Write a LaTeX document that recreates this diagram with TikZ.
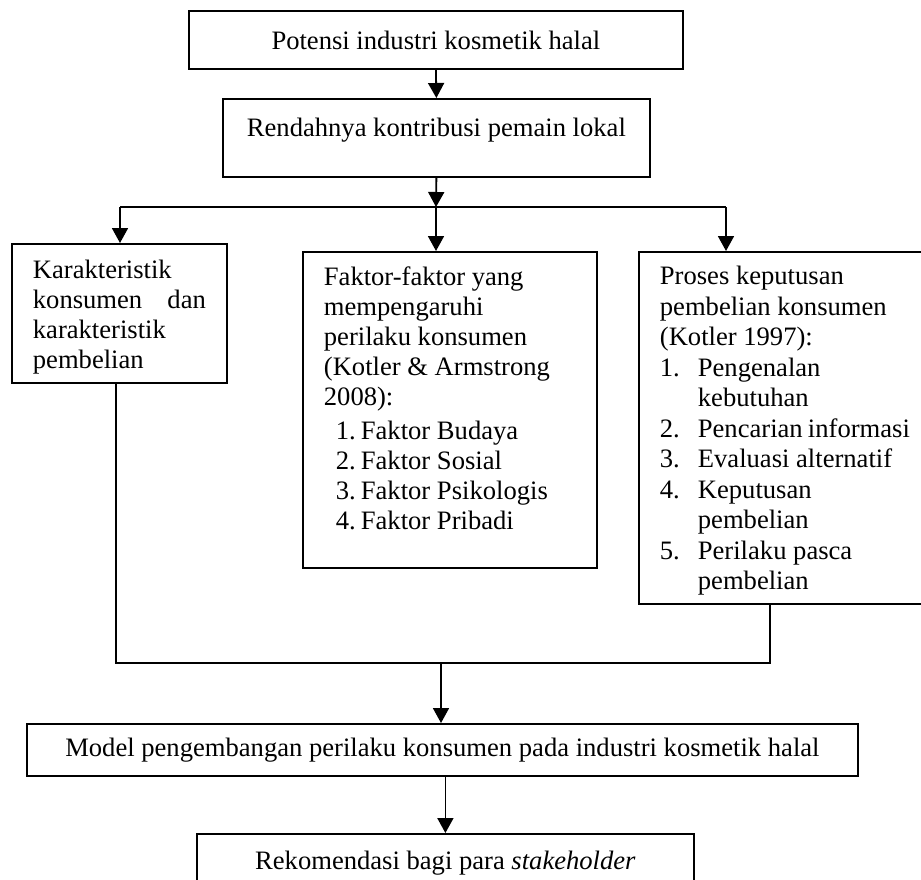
\documentclass[tikz,border=0pt]{standalone}
\usepackage{fontspec}
\setmainfont{Liberation Serif}
\usepackage{tikz}
\usetikzlibrary{arrows.meta}

\begin{document}
\begin{tikzpicture}[x=0.5pt,y=-0.5pt,
    kotak/.style={draw, line width=0.9pt, inner sep=0pt, anchor=north west,
                  font=\fontsize{13.3}{15}\selectfont},
    garis/.style={line width=0.9pt},
    panah/.style={line width=0.9pt, -{Triangle[length=7.5pt,width=8pt]}}]
    \useasboundingbox (0,0) rectangle (921,879);
    \clip (0,0) rectangle (921,879);
    \def\angka#1{\hspace*{6pt}\makebox[12.5pt][l]{#1}}
    \def\nomor#1{\makebox[19pt][l]{#1}}
    % top chain
    \node[kotak, minimum width=247pt, minimum height=29pt] (potensi) at (188,10)
        {Potensi industri kosmetik halal};
    \node[kotak] (rendah) at (222,98)
        {\parbox[c][39pt][t]{213.5pt}{\centering\vspace*{9.6pt}Rendahnya kontribusi pemain lokal}};
    % three boxes
    \node[kotak, inner xsep=10.5pt] (karakter) at (11,243)
        {\parbox[c][69.5pt][t]{86.5pt}{\vspace*{8.3pt}Karakteristik\\
        konsumen\hfill dan\\
        karakteristik\\
        pembelian}};
    \node[kotak, inner xsep=10.5pt] (faktor) at (302,251)
        {\parbox[c][158pt][t]{126pt}{\vspace*{7.2pt}Faktor-faktor yang\\
        mempengaruhi\\
        perilaku konsumen\\
        (Kotler \& Armstrong\\
        2008):\\[2pt]
        \angka{1.}Faktor Budaya\\
        \angka{2.}Faktor Sosial\\
        \angka{3.}Faktor Psikologis\\
        \angka{4.}Faktor Pribadi}};
    \node[kotak, inner xsep=10.5pt, font=\fontsize{13.3}{15.25}\selectfont] (proses) at (638,251)
        {\parbox[c][176pt][t]{125pt}{\vspace*{7.2pt}Proses keputusan\\
        pembelian konsumen\\
        (Kotler 1997):\\
        \nomor{1.}Pengenalan\\
        \hspace*{19pt}kebutuhan\\
        \nomor{2.}Pencarian informasi\\
        \nomor{3.}Evaluasi alternatif\\
        \nomor{4.}Keputusan\\
        \hspace*{19pt}pembelian\\
        \nomor{5.}Perilaku pasca\\
        \hspace*{19pt}pembelian}};
    % bottom chain
    \node[kotak, minimum width=415.5pt, minimum height=26pt] (model) at (26,723)
        {Model pengembangan perilaku konsumen pada industri kosmetik halal};
    \node[kotak, minimum width=248.5pt, minimum height=29pt] (rekom) at (196,833)
        {Rekomendasi bagi para \textit{stakeholder}};
    % branch and join points
    \coordinate (kiri) at (120,207);
    \coordinate (tengah) at (436,207);
    \coordinate (kanan) at (726,207);
    \coordinate (gabungkiri) at (116,663);
    \coordinate (gabungkanan) at (770,663);
    \coordinate (turun) at (441,663);
    % connectors
    \draw[panah] (potensi.south) -- (rendah.north);
    \draw[panah] (rendah.south) -- (tengah);
    \draw[garis] (kiri) -- (kanan);
    \draw[panah] (kiri) -- (kiri |- karakter.north);
    \draw[panah] (tengah) -- (tengah |- faktor.north);
    \draw[panah] (kanan) -- (kanan |- proses.north);
    \draw[garis] (gabungkiri |- karakter.south) -- (gabungkiri)
        -- (gabungkanan) -- (gabungkanan |- proses.south);
    \draw[panah] (turun) -- (turun |- model.north);
    \draw[panah] (model.south -| rekom.north) -- (rekom.north);
\end{tikzpicture}
\end{document}
